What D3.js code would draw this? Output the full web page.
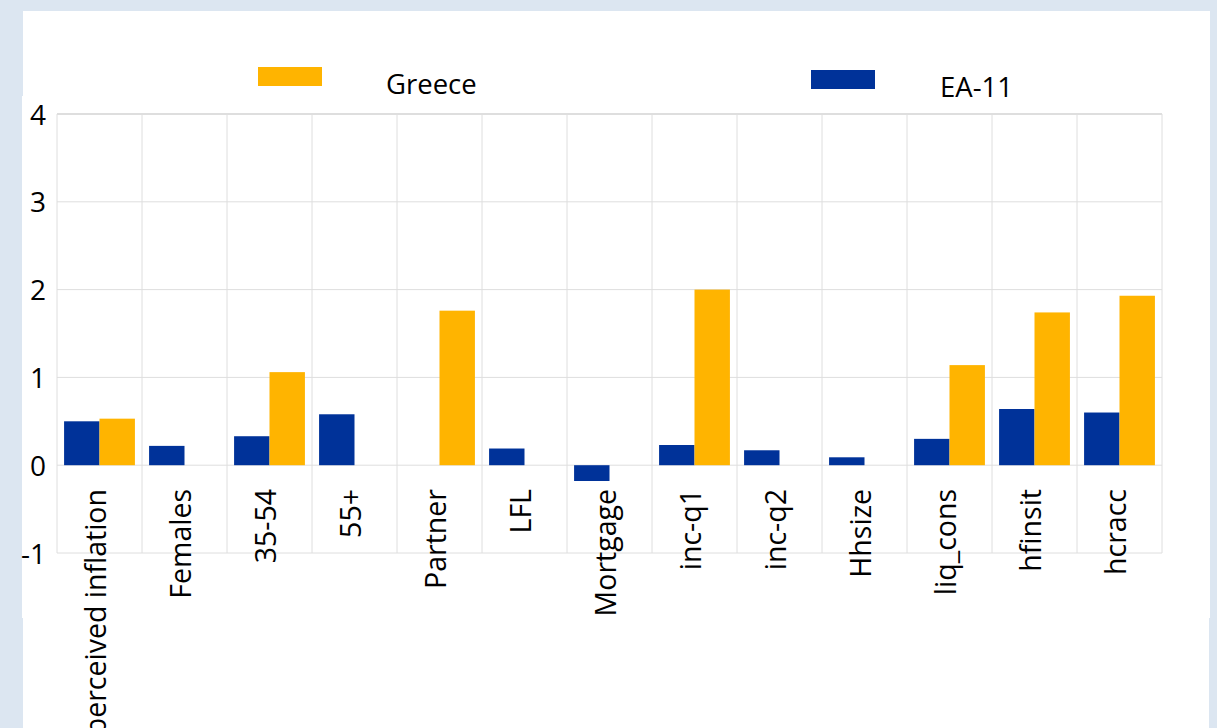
<!DOCTYPE html>
<html>
<head>
<meta charset="utf-8">
<script src="https://cdn.jsdelivr.net/npm/d3@7"></script>
<style>
  html, body { margin: 0; padding: 0; background: #dce6f1; }
  svg { display: block; font-family: "Open Sans", sans-serif; }
</style>
</head>
<body>
<svg id="chart" width="1217" height="728"></svg>
<script>
// data
const categories = ["perceived inflation", "Females", "35-54", "55+", "Partner", "LFL", "Mortgage",
  "inc-q1", "inc-q2", "Hhsize", "liq_cons", "hfinsit", "hcracc"];
const ea11 = [0.50, 0.22, 0.33, 0.58, 0, 0.19, -0.18, 0.23, 0.17, 0.09, 0.30, 0.64, 0.60];
const greece = [0.53, 0, 1.06, 0, 1.76, 0, 0, 2.00, 0, 0, 1.14, 1.74, 1.93];
const yTicks = [4, 3, 2, 1, 0, -1];
const seriesNames = ["EA-11", "Greece"];

const colors = { "EA-11": "#003299", "Greece": "#ffb400" };
const gridColor = "#dedede";

const svg = d3.select("#chart");

// white panel (slightly stepped edges like the source)
svg.append("rect").attr("x", 23).attr("y", 11).attr("width", 1187).attr("height", 86).attr("fill", "#fff");
svg.append("rect").attr("x", 22).attr("y", 96).attr("width", 1188).attr("height", 522).attr("fill", "#fff");
svg.append("rect").attr("x", 23).attr("y", 617).attr("width", 1186).attr("height", 111).attr("fill", "#fff");

const plot = { left: 57, right: 1162, top: 114, bottom: 553 };

const x = d3.scaleBand().domain(categories).range([plot.left, plot.right]).paddingInner(0).paddingOuter(0);
const xs = d3.scaleBand().domain(seriesNames).range([0, x.bandwidth()]).paddingInner(0).paddingOuter(0.2);
const y = d3.scaleLinear().domain([-1, 4]).range([plot.bottom, plot.top]);

// horizontal grid
svg.append("g").selectAll("line").data(yTicks).join("line")
  .attr("x1", plot.left).attr("x2", plot.right)
  .attr("y1", d => y(d)).attr("y2", d => y(d))
  .attr("stroke", gridColor).attr("stroke-width", d => d === 4 ? 2 : 1);

// vertical grid at band edges
const edges = categories.map(c => x(c)).concat([plot.right]);
svg.append("g").selectAll("line").data(edges).join("line")
  .attr("x1", d => d).attr("x2", d => d)
  .attr("y1", plot.top).attr("y2", plot.bottom)
  .attr("stroke", gridColor).attr("stroke-width", 1);

// bars
const rows = categories.map((c, i) => ({ cat: c, values: [
  { s: "EA-11", v: ea11[i] }, { s: "Greece", v: greece[i] }
]}));

const groups = svg.append("g").selectAll("g").data(rows).join("g")
  .attr("transform", d => `translate(${x(d.cat)},0)`);

groups.selectAll("rect").data(d => d.values.filter(e => e.v !== 0)).join("rect")
  .attr("x", d => xs(d.s))
  .attr("width", xs.bandwidth())
  .attr("y", d => y(Math.max(0, d.v)))
  .attr("height", d => Math.abs(y(d.v) - y(0)))
  .attr("fill", d => colors[d.s]);

// y axis labels (plain hyphen for negatives, like the source)
const yAxis = d3.axisLeft(y).tickValues(yTicks).tickSize(0).tickPadding(0).tickFormat(d => String(d));
const yg = svg.append("g").attr("transform", "translate(46,0)").call(yAxis);
yg.select(".domain").remove();
yg.selectAll("text").attr("font-size", 28).attr("fill", "#000")
  .attr("font-family", "'Open Sans', sans-serif").attr("dy", "0.36em");

// x category labels, rotated
svg.append("g").selectAll("text").data(categories).join("text")
  .attr("transform", d => `translate(${x(d) + x.bandwidth() / 2 - 4},489) rotate(-90)`)
  .attr("text-anchor", "end")
  .attr("dy", "0.36em")
  .attr("font-size", 28.5)
  .attr("fill", "#000")
  .text(d => d);

// legend
const legend = [
  { name: "Greece", rx: 258, ry: 67, tx: 386, ty: 94 },
  { name: "EA-11", rx: 811, ry: 70, tx: 940, ty: 97 }
];
const lg = svg.append("g").selectAll("g").data(legend).join("g");
lg.append("rect").attr("x", d => d.rx).attr("y", d => d.ry).attr("width", 64).attr("height", 19)
  .attr("fill", d => colors[d.name]);
lg.append("text").attr("x", d => d.tx).attr("y", d => d.ty)
  .attr("font-size", 27.5).attr("fill", "#000").text(d => d.name);
</script>
</body>
</html>
